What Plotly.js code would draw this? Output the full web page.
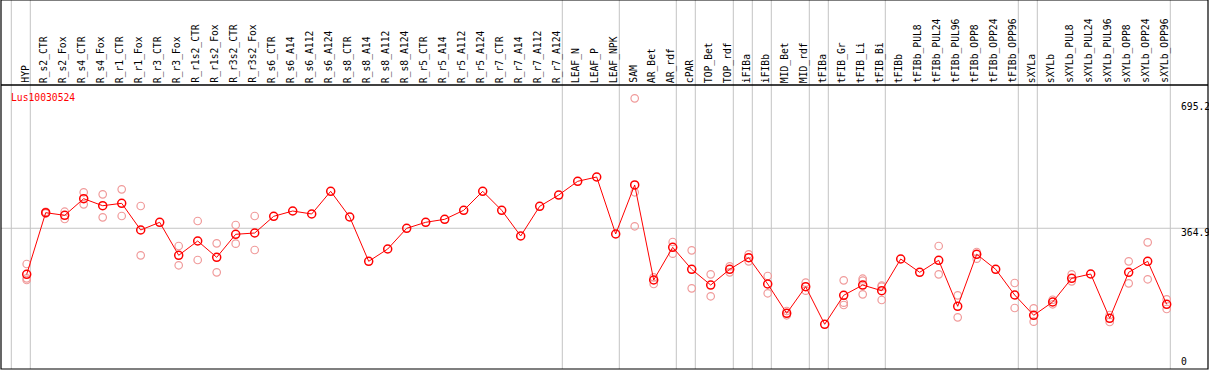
<!DOCTYPE html>
<html>
<head>
<meta charset="utf-8">
<script src="https://cdn.plot.ly/plotly-3.0.1.min.js"></script>
<style>html,body{margin:0;padding:0;background:#fff;}#chart{width:1209px;height:370px;}</style>
</head>
<body>
<div id="chart"></div>
<script>
const geneName = "Lus10030524";
const categories = ["HYP","R_s2_CTR","R_s2_Fox","R_s4_CTR","R_s4_Fox","R_r1_CTR","R_r1_Fox","R_r3_CTR","R_r3_Fox","R_r1s2_CTR","R_r1s2_Fox","R_r3s2_CTR","R_r3s2_Fox","R_s6_CTR","R_s6_A14","R_s6_A112","R_s6_A124","R_s8_CTR","R_s8_A14","R_s8_A112","R_s8_A124","R_r5_CTR","R_r5_A14","R_r5_A112","R_r5_A124","R_r7_CTR","R_r7_A14","R_r7_A112","R_r7_A124","LEAF_N","LEAF_P","LEAF_NPK","SAM","AR_Bet","AR_rdf","cPAR","TOP_Bet","TOP_rdf","iFIBa","iFIBb","MID_Bet","MID_rdf","tFIBa","tFIB_Gr","tFIB_Li","tFIB_Bi","tFIBb","tFIBb_PUL8","tFIBb_PUL24","tFIBb_PUL96","tFIBb_OPP8","tFIBb_OPP24","tFIBb_OPP96","sXYLa","sXYLb","sXYLb_PUL8","sXYLb_PUL24","sXYLb_PUL96","sXYLb_OPP8","sXYLb_OPP24","sXYLb_OPP96"];
const groupSizes = [1,28,3,3,1,2,1,1,2,1,3,7,1,7];
const means = [243.5,405.9,399.0,442.8,424.3,430.7,360.3,380.6,293.6,331.3,288.3,349.0,352.4,396.4,410.4,402.5,462.3,394.6,277.8,310.2,364.8,380.6,388.5,412.2,462.3,412.2,344.5,422.8,452.5,488.7,500.0,349.8,479.0,228.5,314.7,256.7,215.3,256.7,287.3,218.0,140.7,210.9,111.8,188.2,215.3,200.3,283.9,248.8,280.4,159.2,296.3,256.7,189.0,135.5,170.5,233.0,244.3,127.6,248.8,277.8,164.5];
const rep1 = [270.7,408,408.5,459.7,454.4,467.6,423.6,null,318.1,384.0,325.2,373.5,397.2,null,null,null,null,null,null,null,null,null,null,null,null,null,null,null,null,null,null,null,707.4,235.6,328.7,306.8,243.5,264.6,296.3,239.1,146.8,221.4,null,227.7,231.9,214.0,null,null,318.1,188.2,302.3,null,220.6,153.9,176.5,243.5,null,136.3,277.8,327.9,177.6];
const rep2 = [233.0,404,389.3,428.0,393.8,397.2,293.6,null,267.3,281.2,248.8,324.2,307.6,null,null,null,null,null,null,null,null,null,null,null,null,null,null,null,null,null,null,null,459.7,218.0,297.8,206.6,185.6,248.8,277.8,193.5,135.5,200.4,null,168.7,226.7,210.9,null,null,243.5,130.2,284.7,null,154.7,118.6,164.5,225.1,null,117.8,219.8,230.4,152.1];
const rep3 = [228.5,null,null,null,null,null,null,null,null,null,null,null,null,null,null,null,null,null,null,null,null,null,null,null,null,null,null,null,null,null,null,null,370.1,null,null,null,null,null,null,null,null,null,null,162.6,190.8,175.8,null,null,null,null,null,null,null,null,null,null,null,null,null,null,null];
const yTicks = [0, 364.9, 695.2];
const yTickLabels = ["0", "364.9", "695.2"];

const idx = categories.map((c, i) => i);
const repX = [], repY = [];
[rep1, rep2, rep3].forEach(r => r.forEach((v, i) => { if (v !== null) { repX.push(i); repY.push(v); } }));

const FONT = "DejaVu Sans Mono, monospace";
const headerTop = 1 + 85 / 284;

const traces = [
  {x: repX, y: repY, type: "scatter", mode: "markers",
   marker: {symbol: "circle-open", size: 7.5, color: "#f09a9a", line: {width: 1.2, color: "#f09a9a"}},
   hoverinfo: "skip", showlegend: false},
  {x: idx, y: means, type: "scatter", mode: "lines+markers",
   line: {color: "#ff0000", width: 1},
   marker: {symbol: "circle-open", size: 8, color: "#ff0000", line: {width: 1.5, color: "#ff0000"}},
   hoverinfo: "skip", showlegend: false}
];

const shapes = [];
let bounds = [-1]; let acc = -1;
groupSizes.forEach(s => { acc += s; bounds.push(acc); });
bounds.forEach(b => shapes.push({type: "line", xref: "x", yref: "paper", x0: b + 0.19, x1: b + 0.19, y0: 0, y1: headerTop,
  line: {color: "#c4c4c4", width: 1}, layer: "below"}));
shapes.push({type: "line", xref: "paper", yref: "y", x0: 0, x1: 1, y0: yTicks[1], y1: yTicks[1], line: {color: "#c4c4c4", width: 1}, layer: "below"});
shapes.push({type: "rect", xref: "paper", yref: "paper", x0: 0, x1: 1, y0: 0, y1: headerTop, line: {color: "#000", width: 1.2}});
shapes.push({type: "line", xref: "paper", yref: "paper", x0: 0, x1: 1, y0: 1, y1: 1, line: {color: "#000", width: 1.5}});

const annotations = [];
categories.forEach((c, i) => annotations.push({x: i, y: 1, xref: "x", yref: "paper", text: c, showarrow: false,
  textangle: -90, xanchor: "center", yanchor: "bottom", xshift: -2, yshift: 0,
  font: {family: FONT, size: 9.7, color: "#000"}}));
annotations.push({x: 8.3 / 1207, y: 1, xref: "paper", yref: "paper", text: geneName, showarrow: false,
  xanchor: "left", yanchor: "middle", yshift: -12.3, font: {family: FONT, size: 9.7, color: "#ff0000"}});
const yShifts = [5, -4, -3.7];
yTicks.forEach((v, k) => annotations.push({x: 1178 / 1207, y: v, xref: "paper", yref: "y", text: yTickLabels[k], showarrow: false,
  xanchor: "left", yanchor: "middle", yshift: yShifts[k], font: {family: FONT, size: 9.7, color: "#000"}}));

const layout = {
  width: 1209, height: 370,
  margin: {l: 1, r: 1, t: 85, b: 1, pad: 0},
  paper_bgcolor: "#fff", plot_bgcolor: "#fff",
  xaxis: {range: [-1.3526, 62.174], showgrid: false, zeroline: false, showticklabels: false, ticks: "", fixedrange: true},
  yaxis: {range: [-6.06, 742.5], showgrid: false, zeroline: false, showticklabels: false, ticks: "", fixedrange: true},
  shapes: shapes, annotations: annotations, showlegend: false
};
Plotly.newPlot("chart", traces, layout, {staticPlot: true, displayModeBar: false});
</script>
</body>
</html>
